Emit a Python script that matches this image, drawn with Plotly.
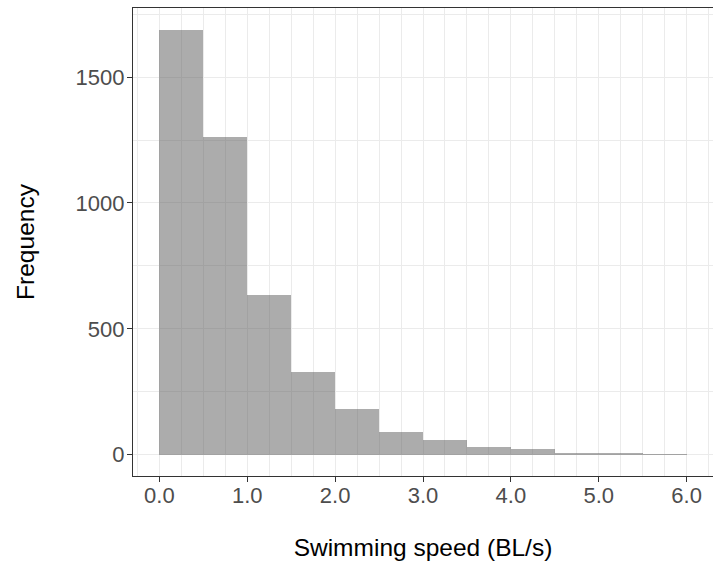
import plotly.graph_objects as go

# Histogram bins (BL/s), width 0.5
bin_starts = [0.0, 0.5, 1.0, 1.5, 2.0, 2.5, 3.0, 3.5, 4.0, 4.5, 5.0, 5.5]
bin_width = 0.5
counts = [1689, 1262, 635, 327, 182, 92, 57, 29, 21, 7, 7, 3]

x_ticks = [0, 1, 2, 3, 4, 5, 6]
y_ticks = [0, 500, 1000, 1500]

centers = [s + bin_width / 2 for s in bin_starts]

fig = go.Figure()
fig.add_trace(go.Bar(
    x=centers, y=counts, width=[bin_width] * len(counts),
    marker=dict(color="rgba(89,89,89,0.5)", line=dict(width=0)),
    hoverinfo="x+y",
))

font_family = "Liberation Sans, Arial, sans-serif"
grid = "#ebebeb"
axis_col = "#333333"

fig.update_layout(
    width=713, height=569,
    margin=dict(l=133, r=0, t=8, b=93),
    paper_bgcolor="white", plot_bgcolor="white",
    showlegend=False,
    bargap=0,
    font=dict(family=font_family, color="#4d4d4d"),
)
fig.update_xaxes(
    range=[-0.3, 6.3],
    tickvals=x_ticks, ticktext=[f"{v:.1f}" for v in x_ticks],
    ticks="outside", ticklen=5, tickcolor=axis_col, tickwidth=1,
    tickfont=dict(size=22, color="#4d4d4d"),
    ticklabelstandoff=-6,
    showline=True, linecolor=axis_col, linewidth=1.3, mirror=True,
    showgrid=True, gridcolor=grid, gridwidth=1.4,
    minor=dict(dtick=0.25, tick0=0, showgrid=True, gridcolor=grid, gridwidth=1, ticks=""),
    zeroline=False,
    title=dict(text="Swimming speed (BL/s)", font=dict(size=24.5, color="black"), standoff=32),
)
fig.update_yaxes(
    range=[-84.5, 1774.5],
    tickvals=y_ticks,
    ticks="outside", ticklen=5, tickcolor=axis_col, tickwidth=1,
    tickfont=dict(size=22, color="#4d4d4d"),
    ticklabelstandoff=-2,
    showline=True, linecolor=axis_col, linewidth=1.3,
    showgrid=True, gridcolor=grid, gridwidth=1.4,
    minor=dict(dtick=250, tick0=0, showgrid=True, gridcolor=grid, gridwidth=1, ticks=""),
    zeroline=False,
    title=dict(text="Frequency", font=dict(size=24.5, color="black"), standoff=33),
)

fig.write_html(
    "out.html",
    config={"displayModeBar": False},
    post_script="document.body.style.margin='0';document.body.style.overflow='hidden';",
)
